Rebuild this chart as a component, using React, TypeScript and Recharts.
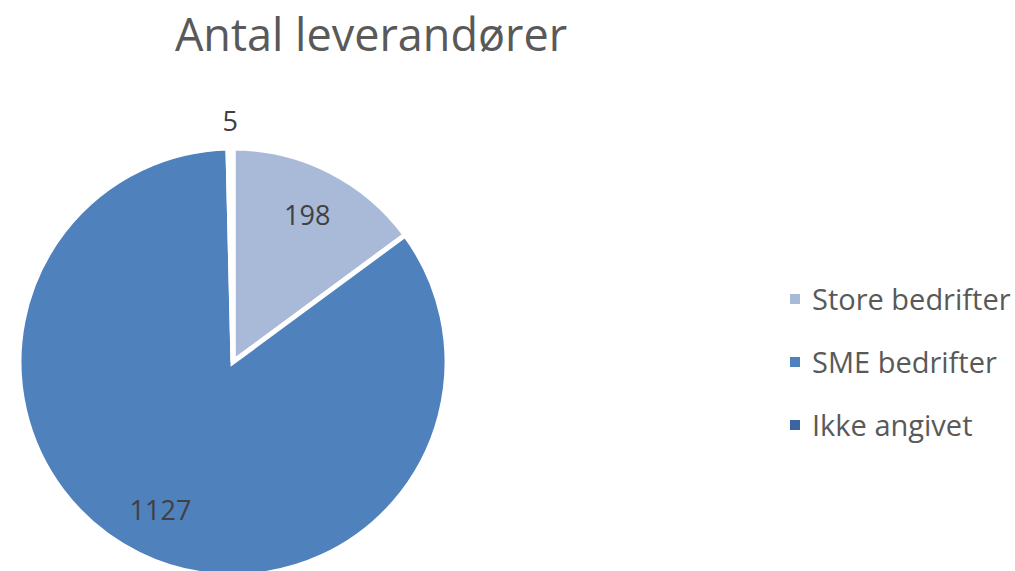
import React from 'react';
import { PieChart, Pie, Cell, Legend } from 'recharts';

const categories = ['Store bedrifter', 'SME bedrifter', 'Ikke angivet'];
const values = [198, 1127, 5];
const colors = ['#A9BAD8', '#4F81BD', '#3C64A0'];
const title = 'Antal leverandører';

const data = categories.map((name, i) => ({ name, value: values[i] }));

const RAD = Math.PI / 180;
const FONT = '"Open Sans", sans-serif';

const renderLabel = (props: any) => {
  const { cx, cy, midAngle, outerRadius, value, index } = props;
  const factor = index === 2 ? 1.13 : 0.77;
  const r = outerRadius * factor;
  const x = cx + r * Math.cos(-midAngle * RAD);
  const y = cy + r * Math.sin(-midAngle * RAD);
  return (
    <text
      x={x}
      y={y}
      fill="#404040"
      fontSize={27}
      fontFamily={FONT}
      textAnchor="middle"
      dominantBaseline="central"
    >
      {value}
    </text>
  );
};

const renderLegend = () => {
  return (
    <div style={{ fontFamily: FONT }}>
      {categories.map((name, i) => (
        <div
          key={name}
          style={{ display: 'flex', alignItems: 'center', height: 63, color: '#595959', fontSize: 29 }}
        >
          <span
            style={{ display: 'inline-block', width: 10, height: 10, background: colors[i], marginRight: 12 }}
          />
          <span>{name}</span>
        </div>
      ))}
    </div>
  );
};

export default function App() {
  return (
    <div style={{ position: 'absolute', left: 0, top: 0, width: 1015, height: 571, background: '#fff', overflow: 'hidden' }}>
      <div
        style={{
          position: 'absolute',
          left: 0,
          top: 4,
          width: 742,
          textAlign: 'center',
          fontFamily: FONT,
          fontSize: 45,
          color: '#595959',
          lineHeight: '60px',
        }}
      >
        {title}
      </div>
      <PieChart width={1015} height={571} margin={{ top: 0, right: 0, bottom: 0, left: 0 }}>
        <Pie
          data={data}
          dataKey="value"
          nameKey="name"
          cx={233}
          cy={362}
          outerRadius={214}
          startAngle={90}
          endAngle={-270}
          stroke="#ffffff"
          strokeWidth={5}
          label={renderLabel}
          labelLine={false}
          isAnimationActive={false}
        >
          {data.map((d, i) => (
            <Cell key={d.name} fill={colors[i]} />
          ))}
        </Pie>
        <Legend
          layout="vertical"
          align="right"
          verticalAlign="top"
          content={renderLegend}
          wrapperStyle={{ left: 790, top: 267, width: 225 }}
        />
      </PieChart>
    </div>
  );
}
